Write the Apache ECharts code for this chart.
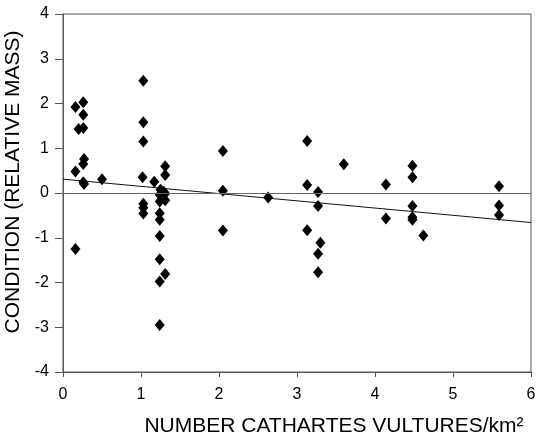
<!DOCTYPE html>
<html>
<head>
<meta charset="utf-8">
<script src="https://cdn.jsdelivr.net/npm/echarts@6/dist/echarts.min.js"></script>
<style>
  html, body { margin: 0; padding: 0; background: #fff; }
  #chart { width: 544px; height: 438px; }
</style>
</head>
<body>
<div id="chart"></div>
<script>
// vulture density (x) vs condition (y)
const densities = [
  0.16, 0.26, 0.26, 0.20, 0.26, 0.27, 0.26, 0.16, 0.26, 0.27, 0.50, 0.16,
  1.03, 1.03, 1.03, 1.02, 1.03, 1.03, 1.03,
  1.17, 1.31, 1.31, 1.25, 1.29, 1.31, 1.24, 1.31, 1.24, 1.24, 1.24, 1.24, 1.24, 1.31, 1.24, 1.24,
  2.05, 2.05, 2.05, 2.63,
  3.13, 3.13, 3.13, 3.27, 3.27, 3.30, 3.27, 3.27, 3.60,
  4.14, 4.14, 4.48, 4.48, 4.48, 4.48, 4.48, 4.62,
  5.59, 5.59, 5.59
];
const conditions = [
  1.92, 2.03, 1.75, 1.43, 1.45, 0.76, 0.65, 0.48, 0.24, 0.20, 0.31, -1.25,
  2.51, 1.58, 1.15, 0.35, -0.24, -0.33, -0.46,
  0.25, 0.60, 0.40, 0.07, 0.03, -0.01, -0.04, -0.16, -0.19, -0.45, -0.60, -0.96, -1.48, -1.81, -1.98, -2.95,
  0.94, 0.05, -0.84, -0.10,
  1.16, 0.18, -0.83, 0.02, -0.29, -1.11, -1.36, -1.77, 0.64,
  0.19, -0.57, 0.61, 0.35, -0.29, -0.54, -0.60, -0.95,
  0.15, -0.28, -0.49
];
// fitted regression line end points
const fitX = [0, 6];
const fitY = [0.31, -0.66];
const xTicks = [0, 1, 2, 3, 4, 5, 6];
const yTicks = [-4, -3, -2, -1, 0, 1, 2, 3, 4];

const points = densities.map((x, i) => [x, conditions[i]]);
const fitLine = fitX.map((x, i) => [x, fitY[i]]);

const font = 'Arial, "Liberation Sans", sans-serif';
const axisColor = '#555';

const chart = echarts.init(document.getElementById('chart'));
chart.setOption({
  animation: false,
  grid: {
    left: 63, right: 13, top: 14, bottom: 66,
    containLabel: false, outerBoundsMode: 'none',
    show: true, borderColor: axisColor, borderWidth: 1
  },
  xAxis: {
    type: 'value', min: 0, max: 6, interval: 1,
    name: 'NUMBER CATHARTES VULTURES/km²',
    nameLocation: 'middle', nameGap: 44,
    nameTextStyle: { fontFamily: font, fontSize: 21, color: '#000', padding: [0, 0, 0, 74] },
    axisLine: { show: true, onZero: false, lineStyle: { color: axisColor } },
    axisTick: { show: true, length: 5, lineStyle: { color: axisColor } },
    axisLabel: {
      fontFamily: font, fontSize: 16, color: '#000', margin: 15,
      formatter: v => xTicks.includes(v) ? String(v) : ''
    },
    splitLine: { show: false }
  },
  yAxis: {
    type: 'value', min: -4, max: 4, interval: 1,
    name: 'CONDITION (RELATIVE MASS)',
    nameLocation: 'middle', nameGap: 34, nameRotate: 90,
    nameTextStyle: { fontFamily: font, fontSize: 21, color: '#000', padding: [0, 0, 0, 22] },
    axisLine: { show: true, onZero: false, lineStyle: { color: axisColor } },
    axisTick: { show: true, length: 8, lineStyle: { color: axisColor } },
    axisLabel: {
      fontFamily: font, fontSize: 16, color: '#000', margin: 14,
      formatter: v => yTicks.includes(v) ? String(v) : ''
    },
    splitLine: { show: false }
  },
  series: [
    {
      type: 'line',
      data: fitLine,
      symbol: 'none',
      lineStyle: { color: '#111', width: 1 },
      markLine: {
        silent: true,
        symbol: 'none',
        label: { show: false },
        lineStyle: { color: '#666', width: 1, type: 'solid' },
        data: [{ yAxis: 0 }]
      },
      z: 2
    },
    {
      type: 'scatter',
      data: points,
      symbol: 'diamond',
      symbolSize: [10, 12],
      itemStyle: { color: '#000', opacity: 1 },
      z: 3
    }
  ]
});
</script>
</body>
</html>
